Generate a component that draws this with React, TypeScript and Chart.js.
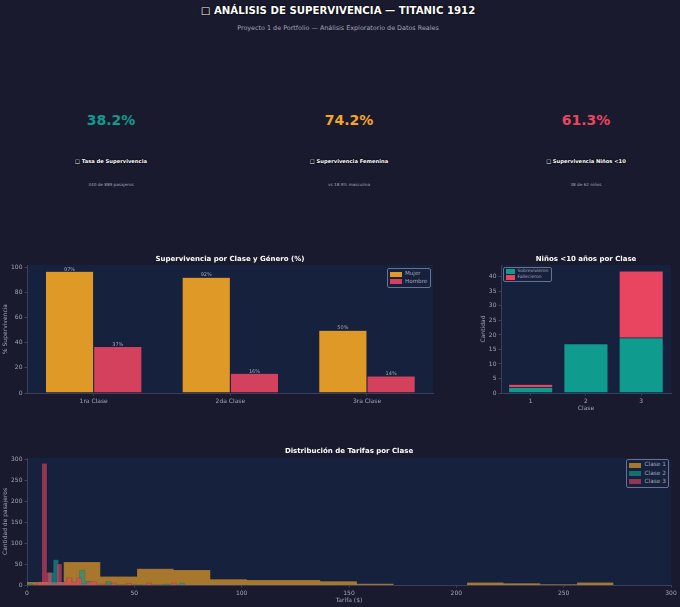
import React from "react";
import { Chart, registerables } from "chart.js";
import type { ChartConfiguration, Plugin } from "chart.js";

Chart.register(...registerables);

const FONT = "'DejaVu Sans', sans-serif";
const ORANGE = "#f5a623";
const TEAL = "#0f9b8e";
const RED = "#e94560";
const TICK = "#a3a5b5";
const EDGE = "#0e1440";

// header cards
const cardValues = ["38.2%", "74.2%", "61.3%"];
const cardColors = [TEAL, ORANGE, RED];
const cardTitles = ["□ Tasa de Supervivencia", "□ Supervivencia Femenina", "□ Supervivencia Niños <10"];
const cardNotes = ["340 de 889 pasajeros", "vs 18.9% masculina", "38 de 62 niños"];
const cardCenters = [111, 349, 586];

// survival by class and gender
const classLabels = ["1ra Clase", "2da Clase", "3ra Clase"];
const classNumbers = [1, 2, 3];
const womenPct = [96.8, 92.1, 50];
const menPct = [36.9, 15.7, 13.5];

// children under 10
const kidsSurvived = [2, 17, 19];
const kidsDied = [1, 0, 23];

// fares, left bin edge and count
const fareEdges1 = [0, 17.08, 34.16, 51.24, 68.32, 85.4, 102.47, 119.55, 136.63, 153.71, 170.79, 187.87, 204.95, 222.03, 239.11, 256.19, 273.27];
const fareCounts1 = [7, 55, 20, 39, 36, 14, 12, 12, 9, 3, 0, 0, 6, 4, 2, 6, 0];
const fareEdges2 = [0, 2.45, 9.8, 12.25, 14.7, 17.15, 24.5, 26.95, 29.4, 36.75, 39.2, 63.7, 66.15, 71.05, 73.5];
const fareCounts2 = [3, 0, 30, 60, 7, 0, 35, 8, 0, 8, 0, 2, 0, 4, 0];
const fareEdges3 = [0, 4.64, 6.95, 9.27, 11.59, 13.91, 16.23, 18.55, 20.86, 23.18, 25.5, 27.82, 32.45, 39.41, 41.73, 46.36, 48.68, 55.64, 57.95, 67.23, 69.55];
const fareCounts3 = [0, 8, 290, 30, 5, 50, 7, 17, 7, 17, 3, 8, 2, 5, 0, 4, 0, 5, 0, 5, 0];

const panelFill: Plugin = {
  id: "panelFill",
  beforeDraw(chart) {
    const { ctx, chartArea: a } = chart;
    ctx.save();
    ctx.fillStyle = "#16213e";
    ctx.fillRect(a.left, a.top, a.right - a.left, a.bottom - a.top);
    ctx.restore();
  },
};

const barLabels: Plugin = {
  id: "barLabels",
  afterDatasetsDraw(chart) {
    const { ctx } = chart;
    ctx.save();
    ctx.font = `5px ${FONT}`;
    ctx.fillStyle = TICK;
    ctx.textAlign = "center";
    ctx.textBaseline = "middle";
    chart.data.datasets.forEach((ds, i) => {
      chart.getDatasetMeta(i).data.forEach((bar, j) => {
        const v = (ds.data[j] as { y: number }).y;
        ctx.fillText(`${v.toFixed(0)}%`, bar.x, bar.y - 2);
      });
    });
    ctx.restore();
  },
};

function toPoints(xs: number[], ys: number[]) {
  return xs.map((x, i) => ({ x, y: ys[i] }));
}

function chartTitle(text: string, top: number, bottom: number) {
  return {
    display: true,
    text,
    color: "#ffffff",
    fullSize: false,
    font: { family: FONT, size: 7, weight: "bold" as const, lineHeight: 1.2 },
    padding: { top, bottom },
  };
}

function axis(extra: object, yWidth?: number, xHeight?: number) {
  return {
    offset: false,
    grid: { offset: false, drawOnChartArea: false, color: "#5a5e78", tickLength: 2.5, tickWidth: 0.6 },
    border: { color: "#3a3f5c", width: 1 },
    ...extra,
    afterFit(s: { width: number; height: number }) {
      if (yWidth !== undefined) s.width = yWidth;
      if (xHeight !== undefined) s.height = xHeight;
    },
  };
}

const ticks = (extra: object = {}) => ({
  color: TICK,
  font: { family: FONT, size: 6 },
  padding: 2,
  maxRotation: 0,
  includeBounds: false,
  autoSkip: false,
  ...extra,
});

const axisTitle = (text: string) => ({
  display: true,
  text,
  color: TICK,
  font: { family: FONT, size: 6, lineHeight: 1.2 },
  padding: 0,
});

const classBars: ChartConfiguration = {
  type: "bar",
  data: {
    datasets: [
      { label: "Mujer", data: toPoints(classNumbers, womenPct), backgroundColor: ORANGE + "e6", borderColor: EDGE, borderWidth: 0.5, barPercentage: 1, categoryPercentage: 0.706 },
      { label: "Hombre", data: toPoints(classNumbers, menPct), backgroundColor: RED + "e6", borderColor: EDGE, borderWidth: 0.5, barPercentage: 1, categoryPercentage: 0.706 },
    ],
  } as any,
  options: {
    animation: false,
    responsive: false,
    layout: { padding: { right: 17 } },
    plugins: { legend: { display: false }, tooltip: { enabled: false }, title: chartTitle("Supervivencia por Clase y Género (%)", 4.8, 1.8) },
    scales: {
      x: axis({ type: "linear", min: 0.512, max: 3.483, ticks: ticks({ stepSize: 1, callback: (v: number) => classLabels[v - 1] }) }, undefined, 22),
      y: axis({ min: 0, max: 101.8, title: axisTitle("% Supervivencia"), ticks: ticks({ stepSize: 20 }) }, 25),
    },
  } as any,
  plugins: [panelFill, barLabels],
};

const kidsBars: ChartConfiguration = {
  type: "bar",
  data: {
    datasets: [
      { label: "Sobrevivieron", data: toPoints(classNumbers, kidsSurvived), backgroundColor: TEAL, borderColor: EDGE, borderWidth: 0.5, barPercentage: 1, categoryPercentage: 0.8 },
      { label: "Fallecieron", data: toPoints(classNumbers, kidsDied), backgroundColor: RED, borderColor: EDGE, borderWidth: (c: any) => (c.raw.y > 0 ? 0.5 : 0), barPercentage: 1, categoryPercentage: 0.8 },
    ],
  } as any,
  options: {
    animation: false,
    responsive: false,
    layout: { padding: { right: 9 } },
    plugins: { legend: { display: false }, tooltip: { enabled: false }, title: chartTitle("Niños <10 años por Clase", 4.8, 1.8) },
    scales: {
      x: axis({ type: "linear", stacked: true, min: 0.462, max: 3.54, title: axisTitle("Clase"), ticks: ticks({ stepSize: 1 }) }, undefined, 19),
      y: axis({ stacked: true, min: 0, max: 44.1, title: axisTitle("Cantidad"), ticks: ticks({ stepSize: 5 }) }, 21),
    },
  } as any,
  plugins: [panelFill],
};

const histDataset = (label: string, xs: number[], ys: number[], color: string, alpha: string, order: number) => ({
  label,
  data: toPoints(xs, ys),
  stepped: true,
  fill: "origin",
  backgroundColor: color + alpha,
  borderColor: EDGE + "50",
  borderWidth: 0.4,
  pointRadius: 0,
  order,
});

const fareHist: ChartConfiguration = {
  type: "line",
  data: {
    datasets: [
      histDataset("Clase 1", fareEdges1, fareCounts1, ORANGE, "a6", 3),
      histDataset("Clase 2", fareEdges2, fareCounts2, TEAL, "a6", 2),
      histDataset("Clase 3", fareEdges3, fareCounts3, RED, "99", 1),
    ],
  } as any,
  options: {
    animation: false,
    responsive: false,
    layout: { padding: { right: 9 } },
    plugins: { legend: { display: false }, tooltip: { enabled: false }, title: chartTitle("Distribución de Tarifas por Clase", 3.8, 2.8) },
    scales: {
      x: axis({ type: "linear", min: 0, max: 300, title: axisTitle("Tarifa ($)"), ticks: ticks({ stepSize: 50 }) }, undefined, 19),
      y: axis({ min: 0, max: 303, title: axisTitle("Cantidad de pasajeros"), ticks: ticks({ stepSize: 50 }) }, 25),
    },
  } as any,
  plugins: [panelFill],
};

function ChartBox({ config, left, top, width, height }: { config: ChartConfiguration; left: number; top: number; width: number; height: number }) {
  const ref = React.useRef<HTMLCanvasElement>(null);
  React.useEffect(() => {
    if (ref.current === null) return;
    const chart = new Chart(ref.current, config);
    return () => chart.destroy();
  }, [config]);
  return <canvas ref={ref} width={width} height={height} style={{ position: "absolute", left, top, width, height }} />;
}

function Legend({ items, left, top, width, height, size, swatch, gap }: { items: [string, string][]; left: number; top: number; width: number; height: number; size: number; swatch: number; gap: number }) {
  return (
    <div style={{ position: "absolute", left, top, width, height, boxSizing: "border-box", border: "1px solid #6b7190", borderRadius: 2, background: "#16213e", display: "flex", flexDirection: "column", justifyContent: "space-evenly", paddingLeft: 1.5 }}>
      {items.map(([label, color]) => (
        <div key={label} style={{ display: "flex", alignItems: "center", gap, fontSize: size, lineHeight: 1, color: TICK, whiteSpace: "nowrap" }}>
          <span style={{ display: "inline-block", width: swatch, height: 5, background: color }} />
          {label}
        </div>
      ))}
    </div>
  );
}

const centered = (x: number, y: number, style: React.CSSProperties): React.CSSProperties => ({
  position: "absolute",
  left: x - 150,
  top: y,
  width: 300,
  textAlign: "center",
  transform: "translateY(-50%)",
  whiteSpace: "nowrap",
  ...style,
});

const outline = "0 0 2px #000, 0 0 1px #000";

export default function App() {
  return (
    <div style={{ position: "absolute", left: 0, top: 0, width: 680, height: 607, background: "#1a1a2e", fontFamily: FONT, overflow: "hidden" }}>
      <div style={centered(338, 10, { fontSize: 10.2, fontWeight: "bold", color: "#fff", textShadow: outline })}>□ ANÁLISIS DE SUPERVIVENCIA — TITANIC 1912</div>
      <div style={centered(338, 28, { fontSize: 6.4, color: "#a3a5b5" })}>Proyecto 1 de Portfolio — Análisis Exploratorio de Datos Reales</div>
      {cardValues.map((v, i) => (
        <React.Fragment key={v}>
          <div style={centered(cardCenters[i], 120, { fontSize: 14, fontWeight: "bold", color: cardColors[i] })}>{v}</div>
          <div style={centered(cardCenters[i], 161, { fontSize: 5.2, fontWeight: "bold", color: "#fff", textShadow: outline })}>{cardTitles[i]}</div>
          <div style={centered(cardCenters[i], 184, { fontSize: 4.2, color: "#a3a5b5" })}>{cardNotes[i]}</div>
        </React.Fragment>
      ))}
      <ChartBox config={classBars} left={2} top={250} width={448} height={165} />
      <ChartBox config={kidsBars} left={480} top={250} width={200} height={162} />
      <ChartBox config={fareHist} left={2} top={443} width={678} height={161} />
      <Legend items={[["Mujer", ORANGE + "e6"], ["Hombre", RED + "e6"]]} left={387} top={268} width={44} height={20} size={5.6} swatch={12} gap={3.5} />
      <Legend items={[["Sobrevivieron", TEAL], ["Fallecieron", RED]]} left={503} top={267} width={49} height={15} size={4.5} swatch={9} gap={3} />
      <Legend items={[["Clase 1", ORANGE + "a6"], ["Clase 2", TEAL + "a6"], ["Clase 3", RED + "99"]]} left={626} top={459} width={43} height={29} size={5.8} swatch={12} gap={4} />
    </div>
  );
}
